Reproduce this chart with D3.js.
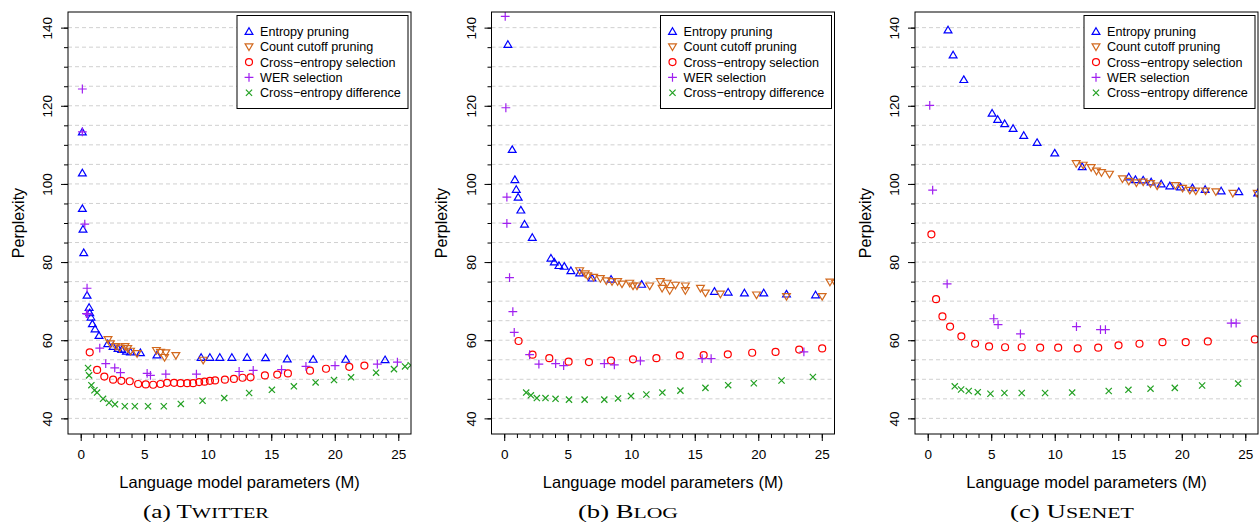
<!DOCTYPE html>
<html>
<head>
<meta charset="utf-8">
<script src="https://cdn.jsdelivr.net/npm/d3@7"></script>
<style>
body { margin: 0; background: #fff; }
text { font-family: "Liberation Sans", Arial, sans-serif; }
</style>
</head>
<body>
<svg id="plotarea" width="1260" height="527"></svg>
<script>
// values: [parameters (M), perplexity]
var twitterEntropy = [[0.13,113.3],[0.13,102.8],[0.13,93.7],[0.18,88.4],[0.24,82.4],[0.5,71.5],[0.66,68.4],[0.71,67.0],[0.81,65.9],[0.92,64.2],[1.13,62.9],[1.44,61.2],[2.13,59.1],[2.55,58.4],[2.94,57.9],[3.23,57.6],[3.6,57.2],[3.92,57.0],[4.7,56.8],[6.0,56.2],[9.48,55.6],[10.17,55.6],[10.95,55.6],[11.9,55.6],[13.1,55.6],[14.55,55.5],[16.26,55.2],[18.3,55.1],[20.86,55.1],[23.96,55.0]];
var twitterCutoff = [[2.15,60.2],[2.34,59.1],[2.76,58.4],[3.07,58.0],[3.49,58.4],[3.7,57.9],[3.92,57.2],[4.44,56.6],[5.96,57.4],[6.28,56.9],[6.7,56.8],[6.6,55.6],[7.49,56.1],[9.64,54.9]];
var twitterXent = [[0.71,56.9],[1.29,52.4],[1.86,50.7],[2.55,49.9],[3.2,49.6],[3.86,49.5],[4.52,48.8],[5.12,48.7],[5.7,48.6],[6.28,48.8],[6.8,49.1],[7.35,49.1],[7.86,49.0],[8.38,49.0],[8.85,49.0],[9.32,49.3],[9.75,49.4],[10.17,49.6],[10.58,49.7],[11.35,49.9],[12.06,50.1],[12.74,50.4],[13.37,50.5],[14.5,51.0],[15.47,51.2],[16.31,51.5],[18.05,52.2],[19.31,52.7],[21.14,53.2],[22.33,53.5]];
var twitterWer = [[0.13,124.3],[0.13,113.3],[0.32,89.7],[0.5,73.3],[0.45,66.8],[0.55,66.7],[1.5,58.0],[1.97,54.0],[2.68,52.9],[3.13,51.7],[5.23,51.5],[5.49,51.0],[6.7,51.3],[9.11,51.3],[12.47,52.0],[13.58,52.3],[15.81,52.5],[17.73,53.3],[20.02,53.5],[23.35,53.9],[24.93,54.4]];
var twitterDiff = [[0.58,52.9],[0.66,51.0],[0.84,48.5],[1.08,47.2],[1.29,46.6],[1.76,45.0],[2.23,44.0],[2.7,43.6],[3.47,43.1],[4.26,43.1],[5.3,43.1],[6.54,43.1],[7.88,43.7],[9.59,44.5],[11.3,45.2],[13.26,46.5],[15.05,47.3],[16.78,48.2],[18.49,49.2],[19.94,49.8],[21.28,50.5],[23.25,51.7],[24.66,52.6],[25.53,53.3],[25.98,53.6]];

var blogEntropy = [[0.29,135.7],[0.63,108.8],[0.84,101.1],[0.95,98.6],[1.1,96.6],[1.31,93.3],[1.6,89.7],[2.21,86.3],[3.68,81.0],[3.94,80.0],[4.31,79.1],[4.73,78.9],[5.25,77.8],[5.94,77.2],[6.91,75.9],[8.41,75.6],[10.82,74.3],[16.55,72.5],[17.63,72.3],[18.91,72.1],[20.43,72.1],[22.22,71.8],[24.51,71.6]];
var blogCutoff = [[5.94,77.8],[6.38,77.0],[6.57,76.5],[7.04,76.1],[7.57,75.8],[8.04,75.2],[8.49,75.0],[8.93,75.0],[9.27,74.4],[9.88,74.6],[10.14,73.9],[10.45,73.9],[11.45,73.9],[12.29,75.0],[12.43,73.3],[12.82,74.6],[13.03,72.7],[13.48,74.1],[14.26,73.9],[14.26,72.7],[15.45,73.3],[15.84,72.1],[17.02,71.8],[19.86,71.6],[22.22,71.2],[25.03,71.2],[25.64,74.9],[26.08,74.6]];
var blogXent = [[1.13,59.8],[2.23,56.3],[3.55,55.4],[5.07,54.5],[6.67,54.4],[8.41,54.8],[10.14,55.1],[11.98,55.4],[13.82,56.1],[15.7,56.2],[17.6,56.4],[19.52,56.8],[21.36,57.0],[23.22,57.6],[25.03,57.9]];
var blogWer = [[0.08,142.9],[0.13,119.5],[0.21,96.6],[0.21,89.9],[0.42,76.0],[0.68,67.3],[0.79,62.0],[2.0,56.3],[2.73,53.9],[4.05,54.0],[4.68,53.5],[7.88,54.0],[8.67,53.7],[10.72,54.7],[15.58,55.3],[16.29,55.3],[23.59,57.0]];
var blogDiff = [[1.73,46.6],[2.1,45.9],[2.57,45.2],[3.25,45.2],[4.04,45.0],[5.1,44.8],[6.33,44.8],[7.88,44.8],[8.96,45.1],[9.98,45.7],[11.19,46.1],[12.45,46.6],[13.87,47.1],[15.84,47.8],[17.63,48.5],[19.65,49.0],[21.83,49.7],[24.3,50.6]];

var usenetEntropy = [[1.6,139.4],[2.0,133.0],[2.84,126.7],[5.07,118.1],[5.51,116.5],[6.06,115.4],[6.72,114.2],[7.56,112.4],[8.61,110.6],[10.0,107.9],[12.16,104.4],[15.83,101.8],[16.35,101.1],[16.96,101.0],[17.59,100.5],[18.38,100.0],[19.06,99.5],[19.9,99.2],[20.84,99.0],[21.84,98.6],[23.1,98.2],[24.49,98.0],[25.98,97.7]];
var usenetCutoff = [[11.69,105.2],[12.24,104.8],[12.87,104.2],[13.29,103.3],[13.68,102.9],[14.31,102.5],[15.33,101.3],[15.83,100.7],[16.43,100.3],[16.96,100.5],[17.54,100.1],[18.06,99.5],[19.5,99.6],[20.06,98.9],[20.63,98.4],[21.1,98.2],[21.87,98.2],[22.68,98.0],[24.02,97.6],[25.94,97.6]];
var usenetXent = [[0.29,87.1],[0.66,70.5],[1.16,66.1],[1.76,63.5],[2.65,61.0],[3.73,59.1],[4.83,58.4],[6.09,58.2],[7.4,58.2],[8.85,58.1],[10.27,58.1],[11.81,57.9],[13.42,58.1],[15.02,58.7],[16.67,59.1],[18.48,59.5],[20.31,59.5],[22.05,59.7],[25.75,60.2]];
var usenetWer = [[0.16,120.1],[0.39,98.4],[1.53,74.4],[5.2,65.5],[5.54,64.0],[7.3,61.6],[11.71,63.5],[13.6,62.7],[13.99,62.7],[23.89,64.4],[24.28,64.4]];
var usenetDiff = [[2.13,48.2],[2.63,47.4],[3.23,47.0],[3.94,46.7],[4.94,46.3],[6.04,46.5],[7.4,46.5],[9.24,46.5],[11.37,46.6],[14.25,47.0],[15.8,47.3],[17.54,47.6],[19.45,47.8],[21.6,48.4],[24.44,48.9]];

var seriesNames = ["Entropy pruning", "Count cutoff pruning", "Cross\u2212entropy selection", "WER selection", "Cross\u2212entropy difference"];
var seriesColors = ["#0000ff", "#d2691e", "#ff0000", "#a020f0", "#22a022"];
var xTicks = [0, 5, 10, 15, 20, 25];
var yTicks = [40, 60, 80, 100, 120, 140];
var captionTags = ["(a) ", "(b) ", "(c) "];
var captionNames = ["Twitter", "Blog", "Usenet"];

var shapes = [
    "M0,-3.7L3.9,2.9L-3.9,2.9Z",
    "M0,3.7L3.9,-2.9L-3.9,-2.9Z",
    "M3.5,0A3.5,3.5 0 1,1 -3.5,0A3.5,3.5 0 1,1 3.5,0Z",
    "M-4.4,0H4.4M0,-4.4V4.4",
    "M-3.1,-3.1L3.1,3.1M-3.1,3.1L3.1,-3.1"
];

var panels = [
    {left: 68, capX: 206, capW: 126, data: [twitterEntropy, twitterCutoff, twitterXent, twitterWer, twitterDiff]},
    {left: 491.5, capX: 628, capW: 100, data: [blogEntropy, blogCutoff, blogXent, blogWer, blogDiff]},
    {left: 915, capX: 1072, capW: 124, data: [usenetEntropy, usenetCutoff, usenetXent, usenetWer, usenetDiff]}
];

var boxTop = 12, boxW = 343, boxH = 422;
var svg = d3.select("#plotarea");

panels.forEach(function(p, i) {
    var x = d3.scaleLinear().domain([-1, 26]).range([0, boxW]);
    var y = d3.scaleLinear().domain([36, 144]).range([boxH, 0]);

    var g = svg.append("g")
        .attr("transform", "translate(" + p.left + "," + boxTop + ")");

    g.append("clipPath").attr("id", "clip" + i)
        .append("rect").attr("width", boxW).attr("height", boxH);

    // dashed grid
    g.selectAll(".grid")
        .data(d3.range(40, 141, 5))
        .enter().append("line")
        .attr("x1", 0).attr("x2", boxW)
        .attr("y1", function(d) { return y(d); })
        .attr("y2", function(d) { return y(d); })
        .attr("stroke", "#d0d0d0")
        .attr("stroke-dasharray", "4,3");

    // axes
    var xa = g.append("g").attr("transform", "translate(0," + boxH + ")");
    xa.call(d3.axisBottom(x).tickValues(d3.range(0, 26, 1)).tickSize(4).tickFormat(""));
    xa.append("g").call(d3.axisBottom(x).tickValues(xTicks).tickSize(7).tickPadding(8).tickFormat(d3.format("d")));
    xa.selectAll(".domain").remove();
    xa.selectAll("text").attr("font-size", 13.5).attr("fill", "#000")
        .style("font-family", "Liberation Sans, Arial, sans-serif");

    var ya = g.append("g");
    ya.call(d3.axisLeft(y).tickValues(d3.range(40, 141, 5)).tickSize(4).tickFormat(""));
    ya.append("g").call(d3.axisLeft(y).tickValues(yTicks).tickSize(7).tickFormat(d3.format("d")));
    ya.selectAll(".domain").remove();
    ya.selectAll("text")
        .attr("x", null).attr("dy", "0.35em")
        .attr("text-anchor", "middle")
        .attr("transform", "translate(-20.5,0) rotate(-90)")
        .attr("font-size", 13.5).attr("fill", "#000")
        .style("font-family", "Liberation Sans, Arial, sans-serif");
    g.selectAll(".tick line").attr("stroke", "#000");

    // points
    var pts = g.append("g").attr("clip-path", "url(#clip" + i + ")");
    p.data.forEach(function(series, s) {
        pts.selectAll(".s" + s)
            .data(series)
            .enter().append("path")
            .attr("class", "s" + s)
            .attr("d", shapes[s])
            .attr("transform", function(d) { return "translate(" + x(d[0]) + "," + y(d[1]) + ")"; })
            .attr("fill", "none")
            .attr("stroke", seriesColors[s])
            .attr("stroke-width", 1.2);
    });

    g.append("rect")
        .attr("width", boxW).attr("height", boxH)
        .attr("fill", "none").attr("stroke", "#000");

    // legend
    var lg = g.append("g").attr("transform", "translate(" + (boxW - 174) + ",3.5)");
    lg.append("rect")
        .attr("width", 171).attr("height", 93)
        .attr("fill", "#fff").attr("stroke", "#000");
    var row = lg.selectAll(".row")
        .data(seriesNames)
        .enter().append("g")
        .attr("transform", function(d, k) { return "translate(0," + (16 + k * 15.3) + ")"; });
    row.append("path")
        .attr("transform", "translate(12,0)")
        .attr("d", function(d, k) { return shapes[k]; })
        .attr("fill", "none")
        .attr("stroke", function(d, k) { return seriesColors[k]; })
        .attr("stroke-width", 1.2);
    row.append("text")
        .attr("x", 23).attr("dy", "0.35em")
        .attr("font-size", 12.6)
        .text(function(d) { return d; });

    // titles
    g.append("text")
        .attr("x", boxW / 2).attr("y", boxH + 54)
        .attr("text-anchor", "middle").attr("font-size", 16.5)
        .text("Language model parameters (M)");
    g.append("text")
        .attr("transform", "translate(-50," + boxH / 2 + ") rotate(-90)")
        .attr("dy", "0.35em")
        .attr("text-anchor", "middle").attr("font-size", 16)
        .text("Perplexity");

    // caption: lowercase tag, small-caps name
    var cap = svg.append("text")
        .attr("x", p.capX).attr("y", 518)
        .attr("text-anchor", "middle")
        .attr("font-size", 19)
        .attr("textLength", p.capW)
        .attr("lengthAdjust", "spacingAndGlyphs")
        .style("font-family", "Liberation Serif, Times New Roman, serif");
    cap.append("tspan").text(captionTags[i]);
    cap.append("tspan").text(captionNames[i].charAt(0));
    cap.append("tspan").attr("font-size", 15.5).text(captionNames[i].slice(1).toUpperCase());
});
</script>
</body>
</html>
